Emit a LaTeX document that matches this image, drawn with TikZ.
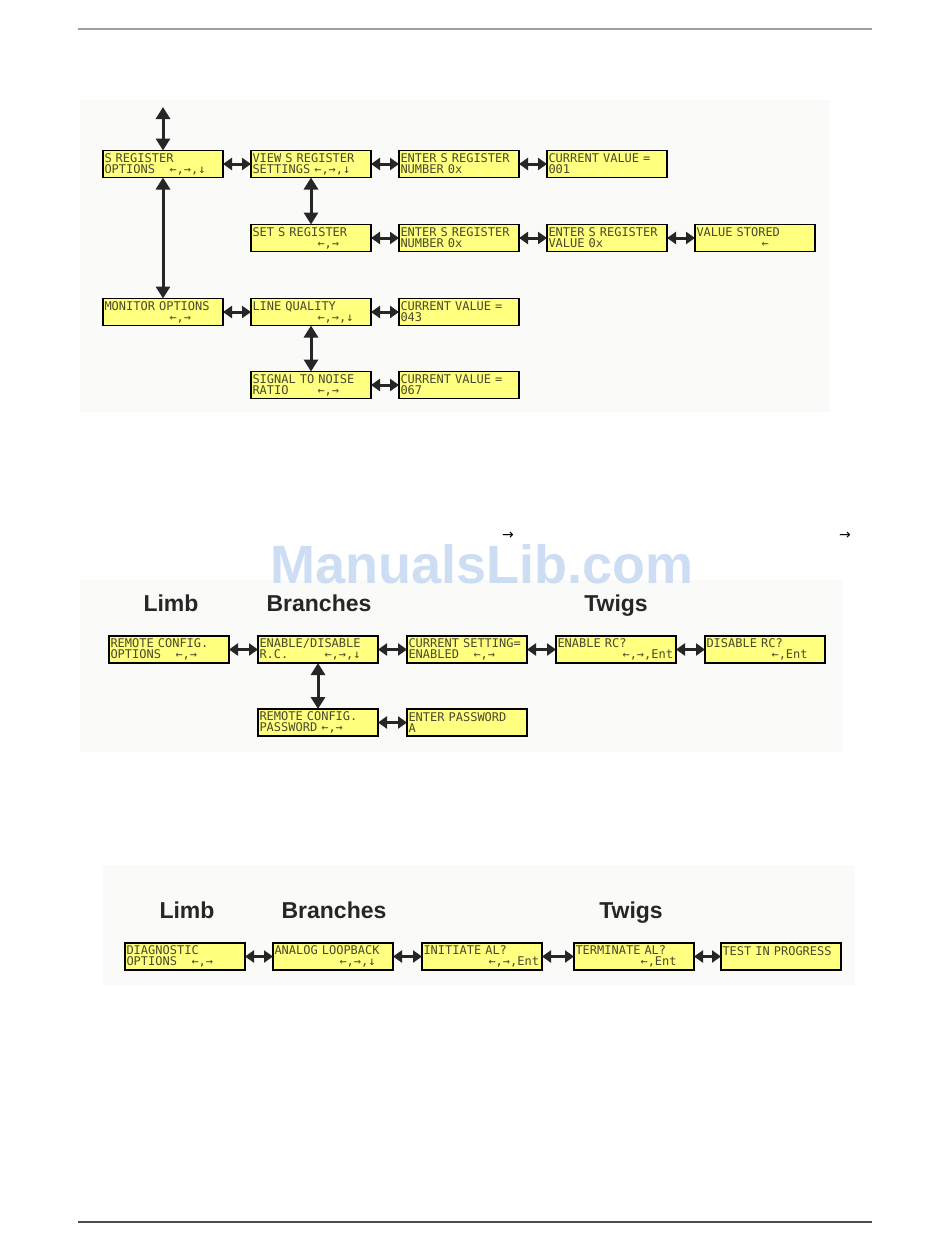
\documentclass[tikz,border=0pt]{standalone}
\usepackage{fontspec}
\setmainfont{Liberation Sans}
\newfontfamily\lcd{DejaVu Sans Mono}
\newfontfamily\simb{DejaVu Sans}
\usepackage{tikz}
\usetikzlibrary{positioning,arrows.meta}
\definecolor{camarillo}{HTML}{FFFF80}
\definecolor{ctexto}{HTML}{4A4A2C}
\definecolor{cmarca}{HTML}{C4D8F2}
\definecolor{cfondo}{HTML}{FAFAF9}
\definecolor{cregla}{HTML}{A0A0A0}
\newcommand\blanco[1]{\hspace*{#1\fontcharwd\font`0}}
\newcommand\fuentelcd{\lcd\fontsize{12}{11}\selectfont\spaceskip=\fontcharwd\font`0\relax}
\tikzset{
  caja/.style={rectangle, draw=black, line width=1.4pt, fill=camarillo, text=ctexto,
    minimum width=120pt, minimum height=27pt, text width=117pt, inner xsep=1.5pt,
    inner ysep=0pt, outer sep=0pt, align=left, font=\fuentelcd},
  flecha/.style={{Triangle[length=9pt,width=12pt]}-{Triangle[length=9pt,width=12pt]},
    line width=3pt, draw=black!85},
  flechav/.style={flecha, {Triangle[length=12pt,width=14pt]}-{Triangle[length=12pt,width=14pt]}},
  etq/.style={font=\bfseries\fontsize{23}{26}\selectfont, text=black!85, anchor=base, inner sep=0pt},
  marca/.style={font=\simb\fontsize{14}{16}\selectfont, inner sep=0pt},
}

\begin{document}
\begin{tikzpicture}[x=1pt, y=-1pt]
  \useasboundingbox (0,0) rectangle (950,1254);
  \draw[line width=2pt, cregla] (78,29) -- (872,29);
  \draw[line width=1.2pt, black!70] (78,1222) -- (872,1222);
  \fill[cfondo] (80,100) rectangle (830,412);
  \fill[cfondo] (80,580) rectangle (842,752);
  \fill[cfondo] (103,865) rectangle (855,985);

  % S register options
  \node[caja] (sreg) at (163,164) {S REGISTER\\OPTIONS\blanco{2}←,→,↓};
  \node[caja, right=28pt of sreg] (verreg) {VIEW S REGISTER\\SETTINGS ←,→,↓};
  \node[caja, right=28pt of verreg] (numa) {ENTER S REGISTER\\NUMBER 0x};
  \node[caja, right=28pt of numa] (val001) {CURRENT VALUE =\\001};
  \node[caja, below=47pt of verreg] (ponreg) {SET S REGISTER\\\blanco{9}←,→};
  \node[caja, right=28pt of ponreg] (numb) {ENTER S REGISTER\\NUMBER 0x};
  \node[caja, right=28pt of numb] (valreg) {ENTER S REGISTER\\VALUE 0x};
  \node[caja, right=28pt of valreg] (guardado) {VALUE STORED\\\blanco{9}←};
  \node[caja, below=121pt of sreg] (monitor) {MONITOR OPTIONS\\\blanco{9}←,→};
  \node[caja, right=28pt of monitor] (linea) {LINE QUALITY\\\blanco{9}←,→,↓};
  \node[caja, right=28pt of linea] (val043) {CURRENT VALUE =\\043};
  \node[caja, below=46pt of linea] (ruido) {SIGNAL TO NOISE\\RATIO\blanco{4}←,→};
  \node[caja, right=28pt of ruido] (val067) {CURRENT VALUE =\\067};
  \coordinate (arriba) at (163,107);

  \draw[flechav] (arriba) -- (sreg);
  \draw[flechav] (sreg) -- (monitor);
  \draw[flechav] (verreg) -- (ponreg);
  \draw[flechav] (linea) -- (ruido);
  \draw[flecha] (sreg) -- (verreg);
  \draw[flecha] (verreg) -- (numa);
  \draw[flecha] (numa) -- (val001);
  \draw[flecha] (ponreg) -- (numb);
  \draw[flecha] (numb) -- (valreg);
  \draw[flecha] (valreg) -- (guardado);
  \draw[flecha] (monitor) -- (linea);
  \draw[flecha] (linea) -- (val043);
  \draw[flecha] (ruido) -- (val067);

  % remote config
  \node[marca] (fl1) at (508,536) {→};
  \node[marca] (fl2) at (845,536) {→};
  \node[etq] (limb1) at (171,611) {Limb};
  \node[etq] (ramas1) at (319,611) {Branches};
  \node[etq] (ramitas1) at (616,611) {Twigs};
  \node[caja] (rcopc) at (169,649.5) {REMOTE CONFIG.\\OPTIONS\blanco{2}←,→};
  \node[caja, right=29pt of rcopc] (rchab) {ENABLE/DISABLE\\R.C.\blanco{5}←,→,↓};
  \node[caja, right=29pt of rchab] (actual) {CURRENT SETTING=\\ENABLED\blanco{2}←,→};
  \node[caja, right=29pt of actual] (habrc) {ENABLE RC?\\\blanco{9}←,→,Ent};
  \node[caja, right=29pt of habrc] (desrc) {DISABLE RC?\\\blanco{9}←,Ent};
  \node[caja, below=46pt of rchab] (rcclave) {REMOTE CONFIG.\\PASSWORD ←,→};
  \node[caja, right=29pt of rcclave] (clave) {ENTER PASSWORD\\A};
  \draw[flecha] (rcopc) -- (rchab);
  \draw[flecha] (rchab) -- (actual);
  \draw[flecha] (actual) -- (habrc);
  \draw[flecha] (habrc) -- (desrc);
  \draw[flechav] (rchab) -- (rcclave);
  \draw[flecha] (rcclave) -- (clave);

  % diagnostics
  \node[etq] (limb2) at (187,918) {Limb};
  \node[etq] (ramas2) at (334,918) {Branches};
  \node[etq] (ramitas2) at (631,918) {Twigs};
  \node[caja] (diag) at (185,956.5) {DIAGNOSTIC\\OPTIONS\blanco{2}←,→};
  \node[caja, right=28pt of diag] (bucle) {ANALOG LOOPBACK\\\blanco{9}←,→,↓};
  \node[caja, right=29pt of bucle] (inicia) {INITIATE AL?\\\blanco{9}←,→,Ent};
  \node[caja, right=32pt of inicia] (termina) {TERMINATE AL?\\\blanco{9}←,Ent};
  \node[caja, right=27pt of termina] (prueba) {TEST IN PROGRESS\\\mbox{}};
  \draw[flecha] (diag) -- (bucle);
  \draw[flecha] (bucle) -- (inicia);
  \draw[flecha] (inicia) -- (termina);
  \draw[flecha] (termina) -- (prueba);

  \node[font=\bfseries\fontsize{54}{58}\selectfont, text=cmarca, opacity=0.85, inner sep=0pt] (sello) at (482,564) {ManualsLib.com};
\end{tikzpicture}
\end{document}
